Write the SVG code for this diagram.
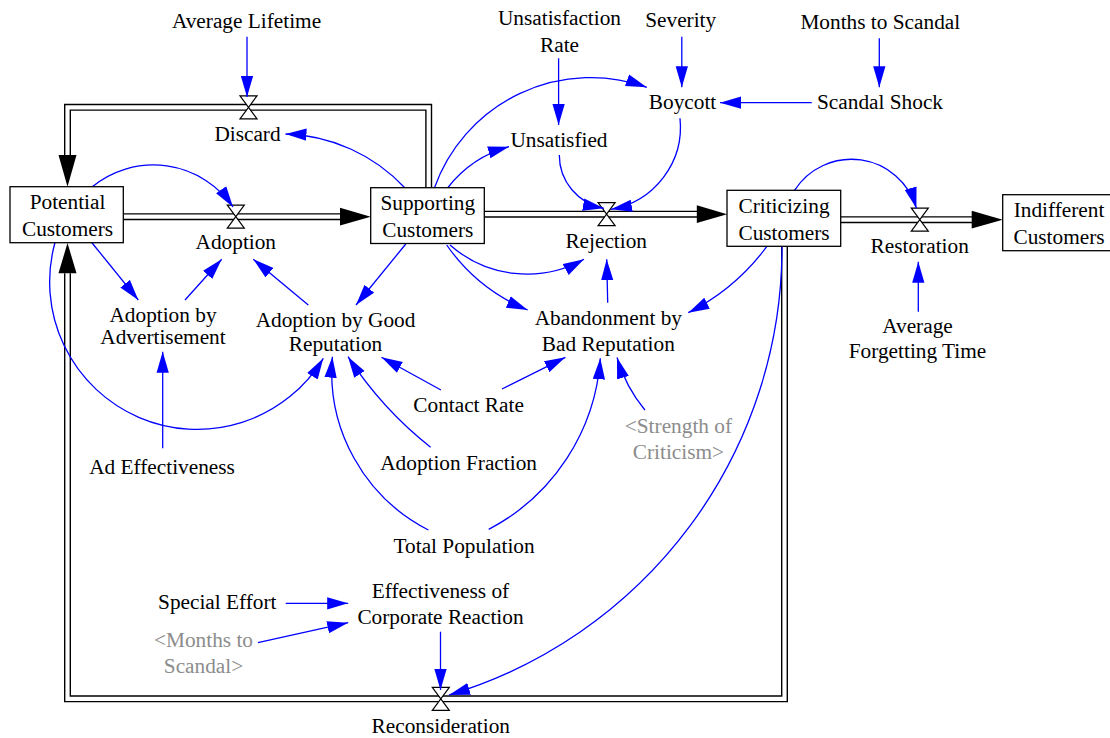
<svg xmlns="http://www.w3.org/2000/svg" width="1110" height="738" viewBox="0 0 1110 738" font-family="'Liberation Serif', 'DejaVu Serif', serif">
<style>
text{font-family:'Liberation Serif','DejaVu Serif',serif;font-size:21.3px;fill:#000;text-anchor:middle}
text.sh{fill:#8c8c8c}
.stock{fill:#fff;stroke:#000;stroke-width:1.3}
.po{fill:none;stroke:#000;stroke-width:7;stroke-linejoin:miter}
.pi{fill:none;stroke:#fff;stroke-width:4.2;stroke-linejoin:miter}
.valve{fill:#fff;stroke:#000;stroke-width:1.2}
.lk{fill:none;stroke:#0000ff;stroke-width:1.3;marker-end:url(#ab)}
.ph{fill:#000}
</style>
<defs>
<marker id="ab" markerUnits="userSpaceOnUse" markerWidth="21" markerHeight="13" refX="20.5" refY="6" orient="auto" viewBox="0 0 20.5 12">
<path d="M0,0 L20.5,6 L0,12 z" fill="#0000ff"/>
</marker>
</defs>
<rect width="1110" height="738" fill="#fff"/>
<g id="pipes">
<path class="po" d="M428.7 187.7 V107.3 H67.5 V155"/>
<path class="pi" d="M428.7 188 V107.3 H67.5 V156"/>
<path class="ph" d="M58.5 155 L76.5 155 L67.5 186.7 z"/>
<path class="po" d="M123.3 216.7 H340"/>
<path class="pi" d="M123 216.7 H341"/>
<path class="ph" d="M340 207.8 L340 225.6 L370.7 216.7 z"/>
<path class="po" d="M484.3 214.2 H697"/>
<path class="pi" d="M484 214.2 H698"/>
<path class="ph" d="M696.8 205.3 L696.8 223.1 L727.1 214.2 z"/>
<path class="po" d="M840.7 219.7 H972"/>
<path class="pi" d="M840.5 219.7 H973"/>
<path class="ph" d="M971.7 210.8 L971.7 228.6 L1002.7 219.7 z"/>
<path class="po" d="M784.5 246.3 V698.8 H67.5 V273.3"/>
<path class="pi" d="M784.5 246 V698.8 H67.5 V272"/>
<path class="ph" d="M58.5 273.3 L76.5 273.3 L67.5 243 z"/>
</g>
<g id="valves">
<path id="v-discard" class="valve" d="M240 95.8 H257 L240 118.8 H257 z"/>
<path id="v-adoption" class="valve" d="M227.3 205.2 H244.3 L227.3 228.2 H244.3 z"/>
<path id="v-rejection" class="valve" d="M598.1 202.7 H615.1 L598.1 225.7 H615.1 z"/>
<path id="v-restoration" class="valve" d="M911.3 208.2 H928.3 L911.3 231.2 H928.3 z"/>
<path id="v-reconsideration" class="valve" d="M432.3 687.3 H449.3 L432.3 710.3 H449.3 z"/>
</g>
<g id="connectors">
<path class="lk" d="M92 187 A96.5 96.5 0 0 1 233 207"/>
<path class="lk" d="M405 188 A169.5 169.5 0 0 0 285.5 134"/>
<path class="lk" d="M434.3 188.3 A166 166 0 0 1 646.8 87.3"/>
<path class="lk" d="M448 187.5 A117 117 0 0 1 509 146.7"/>
<path class="lk" d="M559.3 155 A54 54 0 0 0 603.9 208.3"/>
<path class="lk" d="M680 118.3 A83.6 83.6 0 0 1 611 209.3"/>
<path class="lk" d="M794.3 190.7 A67.6 67.6 0 0 1 916.4 208.3"/>
<path class="lk" d="M55 242.5 A147.5 147.5 0 0 0 323.3 358.3"/>
<path class="lk" d="M428.4 530 A177.4 177.4 0 0 1 332.4 356.7"/>
<path class="lk" d="M488.7 529.3 A208.4 208.4 0 0 0 600.3 358.3"/>
<path class="lk" d="M430.6 447.3 A378 378 0 0 1 348 356.7"/>
<path class="lk" d="M644.9 410 A149 149 0 0 1 617 357.5"/>
<path class="lk" d="M766.7 246.7 A222 222 0 0 1 688.3 312.7"/>
<path class="lk" d="M450 245 A116.6 116.6 0 0 0 584 259.3"/>
<path class="lk" d="M446.7 245 A184 184 0 0 0 527.7 310"/>
<path class="lk" d="M782 247 A467 467 0 0 1 449 695"/>
<path class="lk" d="M247 36.7 V97"/>
<path class="lk" d="M558.6 58.3 V125"/>
<path class="lk" d="M681.8 36.7 V87.3"/>
<path class="lk" d="M879.3 38.3 V87.3"/>
<path class="lk" d="M811.7 102.7 H720"/>
<path class="lk" d="M918.3 311.7 V261.7"/>
<path class="lk" d="M91.7 242.5 L138.3 300"/>
<path class="lk" d="M185 300 L221.7 259.3"/>
<path class="lk" d="M308.3 305 L253.3 259.3"/>
<path class="lk" d="M405.8 244 L356 305"/>
<path class="lk" d="M162.7 448.3 V351.7"/>
<path class="lk" d="M440.9 390 L381.5 357.3"/>
<path class="lk" d="M502 389 L565.4 357.3"/>
<path class="lk" d="M607.7 302.7 L606.7 259.3"/>
<path class="lk" d="M285.7 603.3 H348.2"/>
<path class="lk" d="M257.9 642.7 L348.2 622.7"/>
<path class="lk" d="M440.5 631.7 V690"/>
</g>
<g id="potential-customers"><rect class="stock" x="10" y="186.7" width="113.3" height="56"/><text x="67.5" y="209">Potential</text><text x="67.5" y="236">Customers</text></g>
<g id="supporting-customers"><rect class="stock" x="370.7" y="187.7" width="113.6" height="55.8"/><text x="427.8" y="210">Supporting</text><text x="427.8" y="236.7">Customers</text></g>
<g id="criticizing-customers"><rect class="stock" x="727" y="190.3" width="113.7" height="56"/><text x="784" y="213.3">Criticizing</text><text x="784" y="240">Customers</text></g>
<g id="indifferent-customers"><rect class="stock" x="1002.7" y="194.7" width="113" height="56"/><text x="1059" y="217.3">Indifferent</text><text x="1059" y="244">Customers</text></g>
<g id="average-lifetime"><text x="246.5" y="27.5">Average Lifetime</text></g>
<g id="discard"><text x="247.5" y="140.5">Discard</text></g>
<g id="adoption"><text x="235.8" y="249.3">Adoption</text></g>
<g id="unsatisfaction-rate"><text x="559.5" y="25">Unsatisfaction</text><text x="559.5" y="51.7">Rate</text></g>
<g id="severity"><text x="680.7" y="26.7">Severity</text></g>
<g id="months-to-scandal"><text x="880.3" y="29">Months to Scandal</text></g>
<g id="boycott"><text x="682.5" y="109">Boycott</text></g>
<g id="scandal-shock"><text x="880" y="109">Scandal Shock</text></g>
<g id="unsatisfied"><text x="559" y="146.7">Unsatisfied</text></g>
<g id="rejection"><text x="606.2" y="248.3">Rejection</text></g>
<g id="restoration"><text x="919.7" y="252.7">Restoration</text></g>
<g id="average-forgetting-time"><text x="917.5" y="332.7">Average</text><text x="917.5" y="358.3">Forgetting Time</text></g>
<g id="adoption-by-advertisement"><text x="163" y="321.7">Adoption by</text><text x="163" y="344">Advertisement</text></g>
<g id="adoption-by-good-reputation"><text x="335.5" y="326.7">Adoption by Good</text><text x="335.5" y="350.7">Reputation</text></g>
<g id="abandonment-by-bad-reputation"><text x="608.3" y="325">Abandonment by</text><text x="608.3" y="350.7">Bad Reputation</text></g>
<g id="contact-rate"><text x="468.6" y="411.7">Contact Rate</text></g>
<g id="strength-of-criticism"><text class="sh" x="678.4" y="433.3">&lt;Strength of</text><text class="sh" x="678.4" y="459.3">Criticism&gt;</text></g>
<g id="ad-effectiveness"><text x="162" y="474">Ad Effectiveness</text></g>
<g id="adoption-fraction"><text x="458.6" y="470">Adoption Fraction</text></g>
<g id="total-population"><text x="464.1" y="553.3">Total Population</text></g>
<g id="special-effort"><text x="217.3" y="609">Special Effort</text></g>
<g id="effectiveness-of-corporate-reaction"><text x="440.5" y="597.7">Effectiveness of</text><text x="440.5" y="624.3">Corporate Reaction</text></g>
<g id="months-to-scandal-shadow"><text class="sh" x="203.5" y="646.7">&lt;Months to</text><text class="sh" x="203.5" y="673.3">Scandal&gt;</text></g>
<g id="reconsideration"><text x="440.8" y="732.7">Reconsideration</text></g>
</svg>
